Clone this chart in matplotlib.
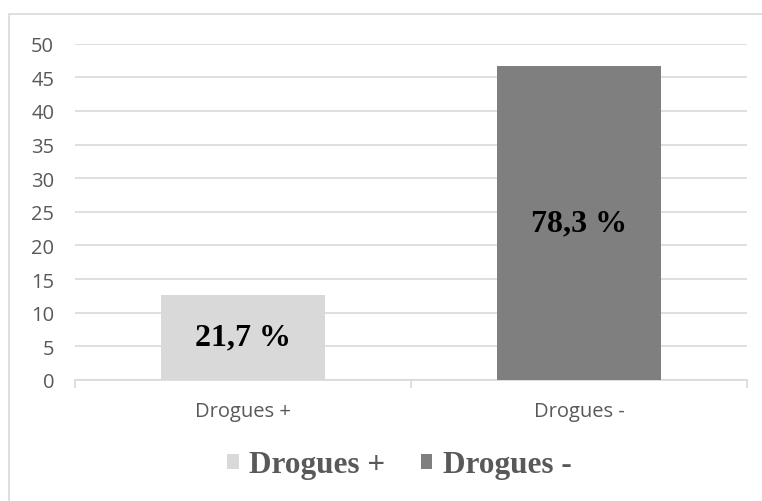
import matplotlib
matplotlib.use("Agg")
import matplotlib.pyplot as plt
from matplotlib.patches import Rectangle, Patch

categories = ["Drogues +", "Drogues -"]
values = [12.7, 46.7]
pct_labels = ["21,7 %", "78,3 %"]
colors = ["#d9d9d9", "#7f7f7f"]
yticks = [0, 5, 10, 15, 20, 25, 30, 35, 40, 45, 50]

W, H = 762, 502
fig = plt.figure(figsize=(W / 100, H / 100), dpi=100)
fig.patch.set_facecolor("white")

# outer chart frame (runs off the right and bottom edges)
fig.add_artist(Rectangle((9 / W, -0.05), 1.2, 1 - 15 / H + 0.05,
                         transform=fig.transFigure, fill=False,
                         edgecolor="#d9d9d9", linewidth=1.2, clip_on=False))

ax = fig.add_axes([75 / W, 1 - 381 / H, (747 - 75) / W, (381 - 44.7) / H])
x = list(range(len(categories)))
ax.bar(x, values, width=0.49, color=colors, zorder=3)

ax.set_xlim(-0.5, 1.5)
ax.set_ylim(0, 50)
ax.set_yticks(yticks)
ax.yaxis.grid(True, color="#d9d9d9", linewidth=1.2, zorder=0)
ax.set_axisbelow(True)

for s in ["top", "right", "left"]:
    ax.spines[s].set_visible(False)
ax.spines["bottom"].set_color("#d9d9d9")
ax.spines["bottom"].set_linewidth(1.2)

tick_font = dict(family="Open Sans", size=14.5, color="#595959")
ax.tick_params(axis="y", length=0, pad=15)
for lbl in ax.get_yticklabels():
    lbl.set_fontfamily("Open Sans")
    lbl.set_fontsize(14.5)
    lbl.set_color("#595959")

# category boundaries carry tick marks, labels sit at category centres
ax.set_xticks([-0.5, 0.5, 1.5])
ax.set_xticklabels([])
ax.tick_params(axis="x", which="major", length=6, width=1.2, color="#d9d9d9")
ax.set_xticks(x, minor=True)
ax.set_xticklabels(categories, minor=True, **tick_font)
ax.tick_params(axis="x", which="minor", length=0, pad=15)

for xi, v, t in zip(x, values, pct_labels):
    ax.text(xi, v / 2, t, ha="center", va="center", fontfamily="Liberation Serif",
            fontweight="bold", fontsize=23, color="black", zorder=4)

handles = [Patch(facecolor=c, edgecolor="none") for c in colors]
fig.legend(handles, categories, loc="center", bbox_to_anchor=(0.524, 1 - 466 / H),
           ncol=2, frameon=False, handlelength=0.36, handleheight=0.36,
           handletextpad=0.33, columnspacing=1.15,
           prop=dict(family="Liberation Serif", weight="bold", size=22.5))
for t in fig.legends[0].get_texts():
    t.set_color("#595959")

fig.savefig("out.png", dpi=100, facecolor="white")
